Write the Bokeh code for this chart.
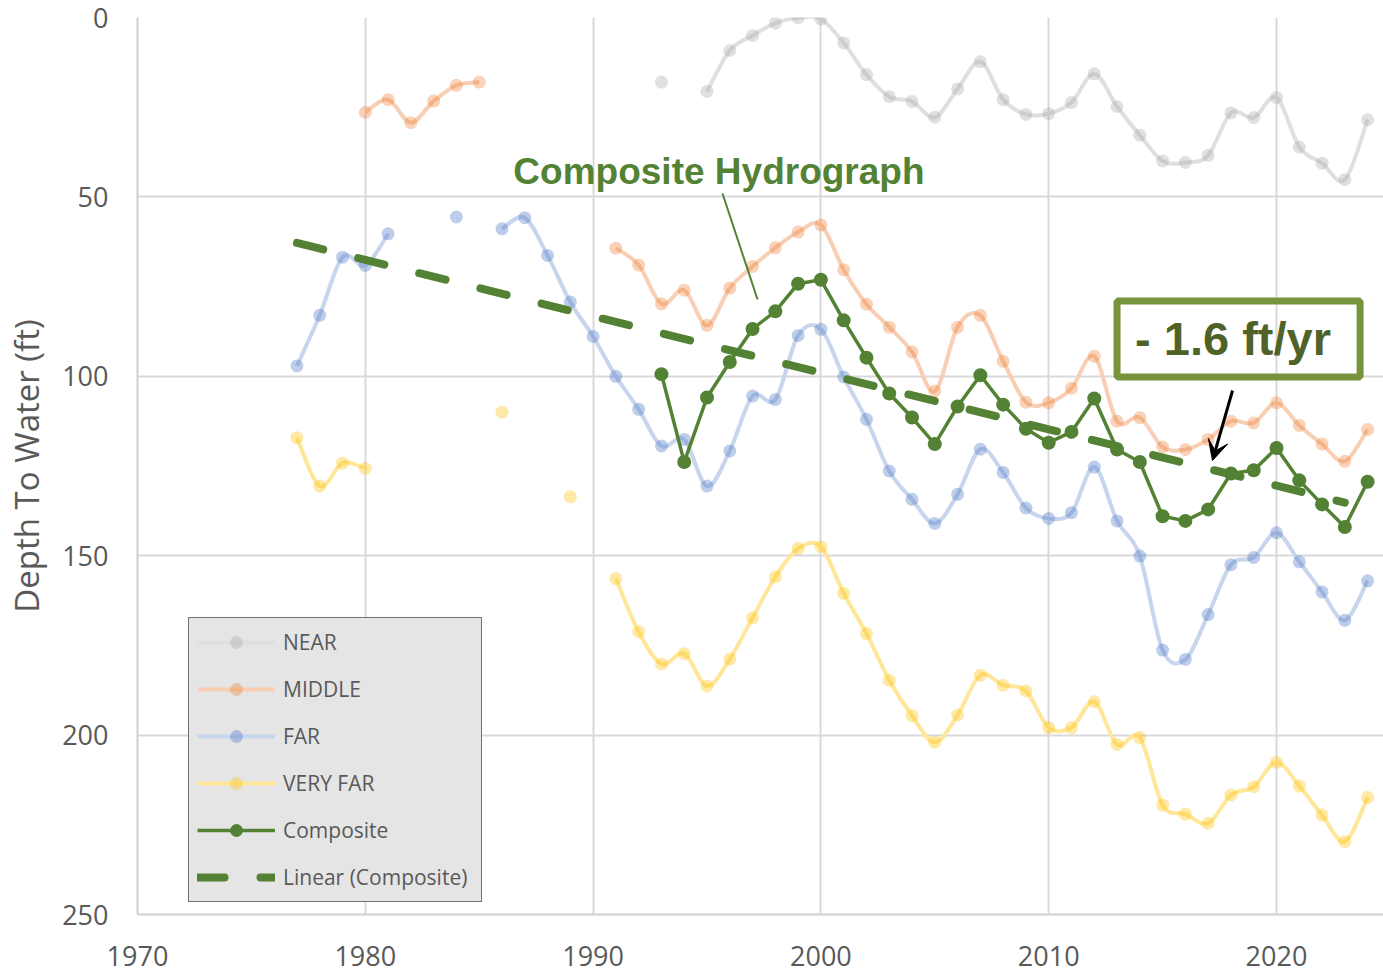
import numpy as np
from bokeh.plotting import figure
from bokeh.models import (Range1d, FixedTicker, Legend, LegendItem, Label,
                          BoxAnnotation, Arrow, VeeHead, ColumnDataSource)
from bokeh.embed import file_html
from bokeh.resources import INLINE

# ---------------- data (depth to water, ft) ----------------
YEARS = list(range(1977, 2025))
N = None
NEAR = [N, N, N, N, N, N, N, N, N, N, N, N, N, N, N, N,
        18.0, N, 20.6, 9.2, 5.0, 1.6, 0.1, 0.4, 7.1, 15.9, 22.1, 23.4, 27.8,
        19.9, 12.3, 22.9, 27.0, 26.8, 23.7, 15.7, 24.8, 32.8, 40.0, 40.4,
        38.4, 26.6, 27.9, 22.3, 36.1, 40.6, 45.2, 28.5]
MIDDLE = [N, N, N, 26.4, 22.9, 29.3, 23.3, 18.9, 18.0, N, N, N, N, N,
          64.3, 69.0, 79.8, 76.0, 85.8, 75.4, 69.4, 64.2, 59.8, 57.8, 70.3,
          79.9, 86.3, 93.2, 104.1, 86.3, 83.0, 95.8, 107.2, 107.4, 103.3,
          94.4, 112.5, 111.5, 119.7, 120.4, 117.6, 112.5, 113.0, 107.4,
          113.7, 118.9, 123.7, 114.8]
FAR = [97.1, 83.0, 66.8, 69.1, 60.3, N, N, 55.6, N, 58.9, 55.8, 66.3, 79.3,
       88.9, 100.0, 109.2, 119.4, 117.6, 130.6, 120.8, 105.5, 106.5, 88.6,
       86.9, 100.2, 112.0, 126.4, 134.3, 141.0, 132.9, 120.3, 126.8, 136.7,
       139.6, 138.0, 125.3, 140.3, 150.1, 176.3, 178.9, 166.4, 152.5, 150.5,
       143.6, 151.7, 160.1, 168.0, 157.0]
VERY_FAR = [117.1, 130.6, 124.2, 125.7, N, N, N, N, N, 110.0, N, N, 133.6, N,
            156.4, 171.2, 180.2, 177.3, 186.3, 178.8, 167.3, 155.9, 148.0,
            147.5, 160.5, 171.7, 184.7, 194.6, 202.0, 194.4, 183.3, 186.1,
            187.7, 197.9, 197.9, 190.7, 202.6, 200.7, 219.5, 222.0, 224.6,
            216.7, 214.4, 207.6, 214.2, 222.3, 229.7, 217.4]
COMPOSITE = [N, N, N, N, N, N, N, N, N, N, N, N, N, N, N, N,
             99.4, 123.9, 105.9, 96.0, 86.8, 81.9, 74.2, 73.1, 84.4, 94.8,
             104.8, 111.5, 118.9, 108.4, 99.7, 107.9, 114.6, 118.5, 115.5,
             106.2, 120.4, 123.9, 139.0, 140.3, 137.1, 127.1, 126.2, 120.0,
             129.0, 135.7, 142.0, 129.4]
TREND_YEARS = [1977, 2023]

SERIES_NAMES = ["NEAR", "MIDDLE", "FAR", "VERY FAR"]
COMPOSITE_NAME = "Composite"
TREND_NAME = "Linear (Composite)"
X_TICKS = [1970, 1980, 1990, 2000, 2010, 2020]
Y_TICKS = [0, 50, 100, 150, 200, 250]
Y_TITLE = "Depth To Water (ft)"
TITLE_TEXT = "Composite Hydrograph"
RATE_TEXT = "- 1.6 ft/yr"

# ---------------- styles ----------------
BASE = ["#A5A5A5", "#ED7D31", "#4472C4", "#FFC000"]
LINE_BLEND = ["#dfdfdf", "#f8cfb4", "#c7d5ed", "#ffe699"]
GREEN = "#548235"
TXT = "#595959"


def to_nan(vals):
    return [np.nan if v is None else v for v in vals]


def smooth_segments(xs, ys):
    """Bezier control points (Catmull-Rom style) for each run of valid points."""
    runs, cur = [], []
    for x, y in zip(xs, ys):
        if y is None:
            if cur:
                runs.append(cur)
            cur = []
        else:
            cur.append((x, y))
    if cur:
        runs.append(cur)
    d = dict(x0=[], y0=[], x1=[], y1=[], cx0=[], cy0=[], cx1=[], cy1=[])
    for run in runs:
        n = len(run)
        for i in range(n - 1):
            pa = run[i - 1] if i > 0 else run[i]
            p1 = run[i]
            p2 = run[i + 1]
            pb = run[i + 2] if i + 2 < n else run[i + 1]
            d["x0"].append(p1[0]); d["y0"].append(p1[1])
            d["x1"].append(p2[0]); d["y1"].append(p2[1])
            d["cx0"].append(p1[0] + (p2[0] - pa[0]) / 6.0)
            d["cy0"].append(p1[1] + (p2[1] - pa[1]) / 6.0)
            d["cx1"].append(p2[0] - (pb[0] - p1[0]) / 6.0)
            d["cy1"].append(p2[1] - (pb[1] - p1[1]) / 6.0)
    return d


X_END = 1970 + (1383 - 137) / 22.78

p = figure(width=1383, height=973, x_range=Range1d(1970, X_END),
           y_range=Range1d(250, 0), output_backend="svg",
           toolbar_location=None, min_border_left=137, min_border_right=0,
           min_border_top=17, min_border_bottom=59,
           background_fill_color="white", border_fill_color="white",
           outline_line_color=None)

# axes
for ax, ticks in ((p.xaxis, X_TICKS), (p.yaxis, Y_TICKS)):
    ax.ticker = FixedTicker(ticks=ticks)
    ax.major_tick_in = 0
    ax.major_tick_out = 0
    ax.minor_tick_line_color = None
    ax.axis_line_color = "#d0d0d0"
    ax.axis_line_width = 2
    ax.major_label_text_font = "Open Sans"
    ax.major_label_text_font_size = "27px"
    ax.major_label_text_color = TXT
p.xaxis.major_label_standoff = 31
p.yaxis.major_label_standoff = 29
p.yaxis.axis_label = Y_TITLE
p.yaxis.axis_label_text_font = "Open Sans"
p.yaxis.axis_label_text_font_size = "33px"
p.yaxis.axis_label_text_font_style = "normal"
p.yaxis.axis_label_text_color = TXT
p.yaxis.axis_label_standoff = 10

p.xgrid.ticker = FixedTicker(ticks=X_TICKS)
p.ygrid.ticker = FixedTicker(ticks=Y_TICKS)
for g in (p.xgrid, p.ygrid):
    g.grid_line_color = "#d9d9d9"
    g.grid_line_width = 2

items = []
for name, vals, base, blend in zip(SERIES_NAMES, [NEAR, MIDDLE, FAR, VERY_FAR],
                                   BASE, LINE_BLEND):
    seg = ColumnDataSource(smooth_segments(YEARS, vals))
    bz = p.bezier(x0="x0", y0="y0", x1="x1", y1="y1", cx0="cx0", cy0="cy0",
                  cx1="cx1", cy1="cy1", source=seg, line_color=blend,
                  line_width=4)
    sc = p.scatter(YEARS, to_nan(vals), size=13, fill_color=base,
                   fill_alpha=0.35, line_color=None)
    leg_line = p.line([np.nan], [np.nan], line_color=blend, line_width=4)
    items.append(LegendItem(label=name, renderers=[leg_line, sc]))

cl = p.line(YEARS, to_nan(COMPOSITE), line_color=GREEN, line_width=3.5)
cs = p.scatter(YEARS, to_nan(COMPOSITE), size=14, fill_color=GREEN,
               line_color=None)
items.append(LegendItem(label=COMPOSITE_NAME, renderers=[cl, cs]))

cx = [y for y, v in zip(YEARS, COMPOSITE) if v is not None]
cv = [v for v in COMPOSITE if v is not None]
slope, intercept = np.polyfit(cx, cv, 1)
tl = p.line(TREND_YEARS, [slope * x + intercept for x in TREND_YEARS],
            line_color=GREEN, line_width=8, line_dash="27 36",
            line_cap="round")
items.append(LegendItem(label=TREND_NAME, renderers=[tl]))

legend = Legend(items=items, location=(51, 12), glyph_width=78,
                glyph_height=32, label_height=32, spacing=15, padding=8,
                margin=0, label_standoff=8, label_width=190,
                border_line_color="black", border_line_width=1.5,
                background_fill_color="#e5e5e5", background_fill_alpha=1,
                label_text_font="Open Sans", label_text_font_size="21px",
                label_text_color=TXT)
p.add_layout(legend)

# annotations
p.add_layout(Label(x=1986.5, y=42.9, text=TITLE_TEXT,
                   text_font="Liberation Sans", text_font_style="bold",
                   text_font_size="37px", text_color=GREEN,
                   text_align="left", text_baseline="middle"))
p.add_layout(Arrow(x_start=1995.68, y_start=49.05, x_end=1997.22, y_end=78.6,
                   end=None, line_color=GREEN, line_width=2))
p.add_layout(BoxAnnotation(left=2013.0, right=2023.67, top=79.0, bottom=100.2,
                           fill_alpha=0, line_color="#77933c", line_width=7,
                           line_alpha=1))
p.add_layout(Label(x=2018.09, y=89.6, text=RATE_TEXT,
                   text_font="Liberation Sans", text_font_style="bold",
                   text_font_size="47px", text_color="#4f6228",
                   text_align="center", text_baseline="middle"))
p.add_layout(Arrow(x_start=2018.07, y_start=103.96, x_end=2017.19,
                   y_end=123.47, line_color="black", line_width=3,
                   end=VeeHead(size=20, fill_color="black",
                               line_color="black")))

open("out.html", "w").write(file_html(p, INLINE))
